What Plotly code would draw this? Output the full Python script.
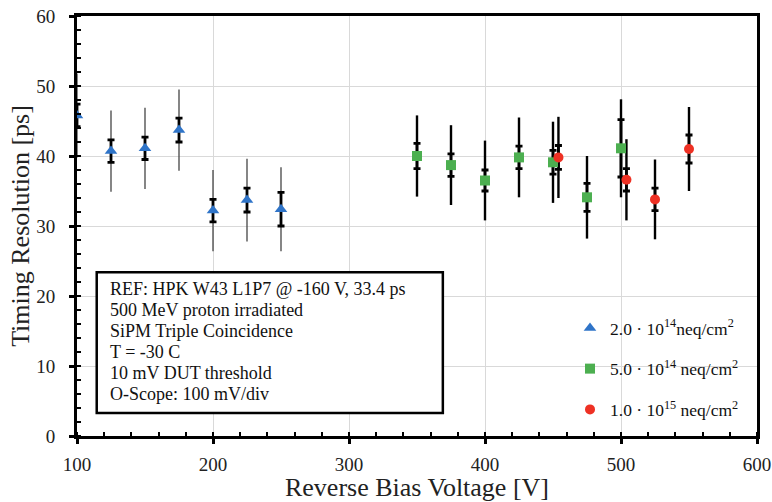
import plotly.graph_objects as go

# ---- data ----
x_2e14 = [100, 125, 150, 175, 200, 225, 250]
y_2e14 = [45.8, 40.7, 41.1, 43.7, 32.2, 33.7, 32.4]
err_out_2e14 = [6.0, 5.8, 5.8, 5.8, 5.8, 5.9, 6.0]
err_in_2e14 = [1.6, 1.6, 1.6, 1.7, 1.6, 1.7, 2.4]

x_5e14 = [350, 375, 400, 425, 450, 475, 500]
y_5e14 = [40.0, 38.7, 36.5, 39.8, 39.1, 34.1, 41.1]
err_out_5e14 = [5.8, 5.7, 5.7, 5.7, 5.8, 5.9, 7.0]
err_in_5e14 = [1.8, 1.6, 1.5, 1.6, 1.7, 2.0, 4.1]

x_1e15 = [454, 504, 525, 550]
y_1e15 = [39.8, 36.6, 33.8, 41.0]
err_out_1e15 = [5.8, 5.8, 5.7, 6.0]
err_in_1e15 = [1.7, 1.6, 1.6, 2.0]

names = ["2.0 · 10<sup>14</sup>neq/cm<sup>2</sup>",
         "5.0 · 10<sup>14</sup> neq/cm<sup>2</sup>",
         "1.0 · 10<sup>15</sup> neq/cm<sup>2</sup>"]

info_lines = ["REF: HPK W43 L1P7 @ -160 V, 33.4 ps",
              "500 MeV proton irradiated",
              "SiPM Triple Coincidence",
              "T = -30 C",
              "10 mV DUT threshold",
              "O-Scope: 100 mV/div"]

SERIF = "Liberation Serif"

series = [
    (x_2e14, y_2e14, err_out_2e14, err_in_2e14, "#2F74C8", "triangle-up", "#444444", 1.3, 11),
    (x_5e14, y_5e14, err_out_5e14, err_in_5e14, "#4CAF50", "square", "black", 2.4, 10),
    (x_1e15, y_1e15, err_out_1e15, err_in_1e15, "#EE3124", "circle", "black", 2.4, 10),
]

fig = go.Figure()

# outer error bars
for xs, ys, eo, ei, col, sym, ocol, ow, ms in series:
    fig.add_trace(go.Scatter(
        x=xs, y=ys, mode="markers", marker=dict(size=1, opacity=0),
        error_y=dict(type="data", array=eo, color=ocol, thickness=ow, width=0),
        showlegend=False, hoverinfo="skip"))
# inner error bars
for xs, ys, eo, ei, col, sym, ocol, ow, ms in series:
    fig.add_trace(go.Scatter(
        x=xs, y=ys, mode="markers", marker=dict(size=1, opacity=0),
        error_y=dict(type="data", array=ei, color="black", thickness=2.8, width=3.5),
        showlegend=False, hoverinfo="skip"))
# markers
for i, (xs, ys, eo, ei, col, sym, ocol, ow, ms) in enumerate(series):
    fig.add_trace(go.Scatter(
        x=xs, y=ys, mode="markers", name=names[i], legendgroup=f"g{i}",
        marker=dict(color=col, symbol=sym, size=ms, line=dict(width=0))))

# info box
fig.add_shape(type="rect", xref="x", yref="y", x0=114.5, x1=369, y0=3.3, y1=23.4,
              line=dict(color="black", width=2.5), fillcolor="white", layer="above")
line_y = [21.0, 18.0, 15.0, 12.0, 9.0, 6.0]
for txt, ly in zip(info_lines, line_y):
    fig.add_annotation(xref="x", yref="y", x=122.5, y=ly, xanchor="left", yanchor="middle",
                       text=txt, showarrow=False, align="left",
                       font=dict(family=SERIF, size=18, color="#111111"))

axis_common = dict(
    showline=True, linecolor="black", linewidth=3, mirror=True,
    ticks="outside", ticklen=5, tickwidth=3, tickcolor="black",
    showgrid=True, gridcolor="#d9d9d9", gridwidth=1, zeroline=False,
    automargin=False, ticklabeloverflow="allow",
    tickfont=dict(family=SERIF, size=19, color="#222222"),
)

fig.update_xaxes(range=[100, 600], dtick=100, tick0=100, ticklabelstandoff=4,
                 minor=dict(dtick=20, ticks="inside", ticklen=4, tickwidth=2,
                            tickcolor="black", showgrid=False),
                 title=dict(text="Reverse Bias Voltage [V]", standoff=8,
                            font=dict(family=SERIF, size=26, color="#222222")),
                 **axis_common)
fig.update_yaxes(range=[0, 60], dtick=10, ticklabelstandoff=10,
                 minor=dict(dtick=2, ticks="inside", ticklen=4, tickwidth=2,
                            tickcolor="black", showgrid=False),
                 title=dict(text="Timing Resolution [ps]", standoff=0,
                            font=dict(family=SERIF, size=26, color="#222222")),
                 **axis_common)

fig.update_layout(
    width=772, height=502,
    margin=dict(l=77, r=15, t=16, b=66),
    paper_bgcolor="white", plot_bgcolor="white",
    legend=dict(x=0.725, y=0.30, xanchor="left", yanchor="top",
                bgcolor="rgba(0,0,0,0)", tracegroupgap=15,
                font=dict(family=SERIF, size=17.5, color="#111111")),
)

# remove the default page margin so the 772x502 figure fills the window exactly
fig.write_html("out.html", config={"displayModeBar": False},
               post_script="document.body.style.margin='0';")
